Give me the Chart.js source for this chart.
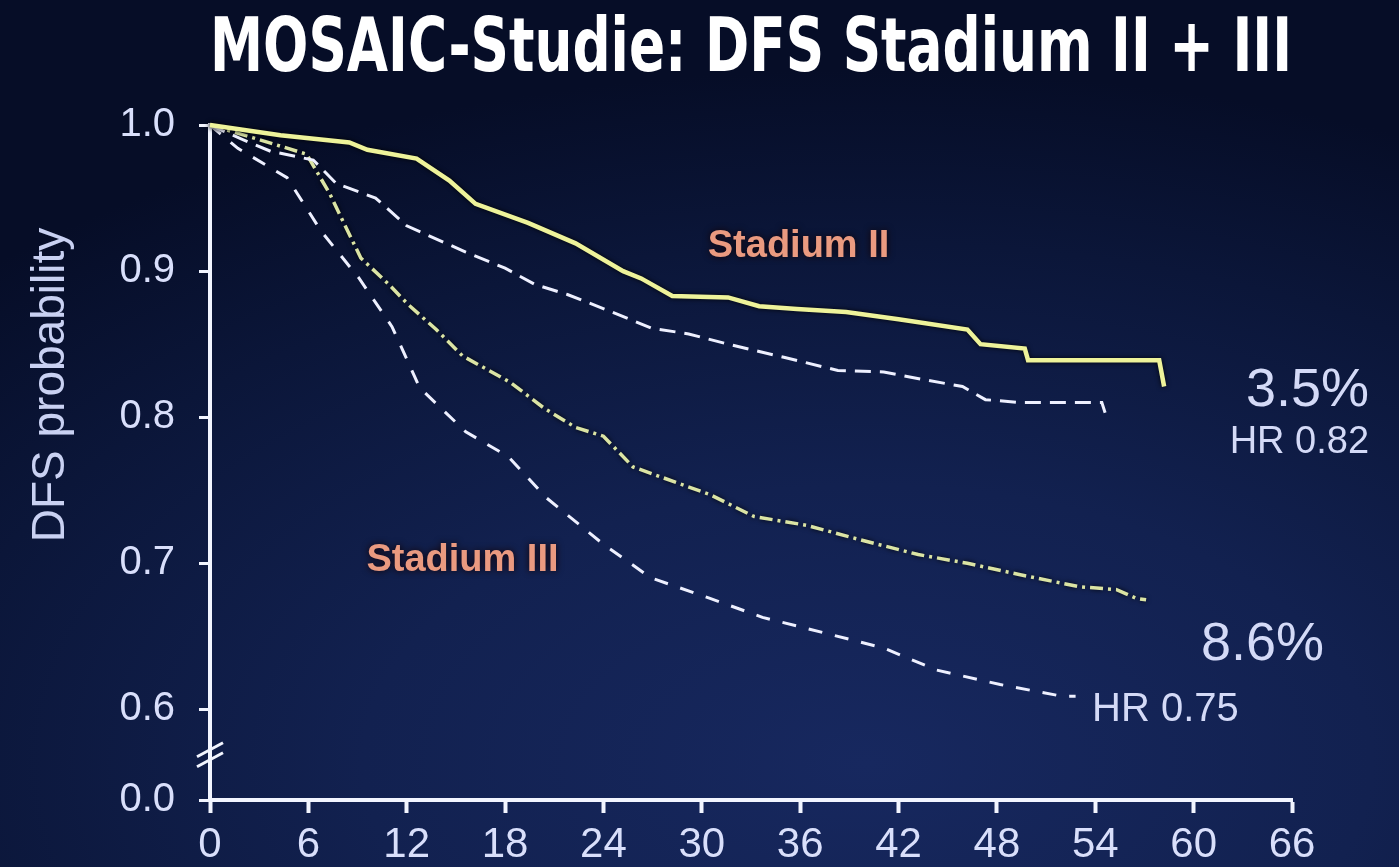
<!DOCTYPE html>
<html>
<head>
<meta charset="utf-8">
<script src="https://cdn.jsdelivr.net/npm/chart.js@4.4.1/dist/chart.umd.min.js"></script>
<style>
  html, body { margin: 0; padding: 0; width: 1399px; height: 867px; overflow: hidden; }
  body {
    background:
      radial-gradient(ellipse 90% 80% at 62% 88%, #17285f 0%, #122150 40%, #0b1639 75%, #060d27 100%);
  }
  #wrap { position: absolute; left: 0; top: 0; width: 1399px; height: 867px; }
</style>
</head>
<body>
<div id="wrap"><canvas id="c" width="1399" height="867"></canvas></div>
<script>
// ---------------- data ----------------
const chartTitle = 'MOSAIC-Studie: DFS Stadium II + III';
const yAxisTitle = 'DFS probability';
const monthTicks = [0, 6, 12, 18, 24, 30, 36, 42, 48, 54, 60, 66];
const yTickValues = [0.6, 0.7, 0.8, 0.9, 1.0];
const yBreakLabel = '0.0';

// Stadium II, FOLFOX (yellow solid)
const s2FolfoxMonths = [0, 4.3, 8.5, 9.6, 12.6, 14.6, 16.2, 19.4, 22.3, 25.2, 26.3, 28.2, 31.6, 33.5, 35.8, 38.8, 42, 46.2, 47.0, 49.7, 49.9, 57.9, 58.2];
const s2FolfoxDfs    = [1.0, 0.993, 0.988, 0.983, 0.977, 0.962, 0.946, 0.933, 0.919, 0.900, 0.895, 0.883, 0.882, 0.876, 0.874, 0.872, 0.867, 0.860, 0.850, 0.847, 0.839, 0.839, 0.821];

// Stadium II, LV5FU2 (white dashed)
const s2Lv5fu2Months = [0, 2.0, 3.7, 6.3, 7.7, 10.1, 12.0, 15.6, 18.0, 19.8, 21.8, 24.3, 26.9, 29.2, 31.6, 35.0, 38.3, 41.1, 43.4, 45.9, 47.3, 49.5, 54.4, 54.6];
const s2Lv5fu2Dfs    = [1.0, 0.990, 0.982, 0.976, 0.960, 0.950, 0.931, 0.913, 0.902, 0.891, 0.884, 0.873, 0.861, 0.857, 0.850, 0.841, 0.832, 0.831, 0.826, 0.821, 0.812, 0.810, 0.810, 0.803];

// Stadium III, FOLFOX (yellow dash-dot)
const s3FolfoxMonths = [0, 3.0, 5.9, 7.3, 7.9, 9.2, 10.9, 12.1, 13.8, 15.4, 18.3, 20.4, 22.3, 24.0, 25.8, 30.5, 33.2, 36.4, 39.7, 43.2, 46.2, 49.5, 53.0, 55.3, 56.5, 57.1];
const s3FolfoxDfs    = [1.0, 0.990, 0.980, 0.953, 0.939, 0.909, 0.891, 0.877, 0.860, 0.842, 0.824, 0.806, 0.793, 0.787, 0.766, 0.747, 0.732, 0.726, 0.716, 0.706, 0.700, 0.692, 0.684, 0.682, 0.676, 0.675];

// Stadium III, LV5FU2 (white dashed)
const s3Lv5fu2Months = [0, 1.7, 4.7, 6.8, 9.1, 11.1, 12.8, 15.6, 18.2, 20.5, 24.0, 26.9, 30.5, 33.7, 37.6, 41.1, 44.3, 48.2, 52.0, 52.8];
const s3Lv5fu2Dfs    = [1.0, 0.984, 0.964, 0.927, 0.895, 0.862, 0.820, 0.790, 0.773, 0.745, 0.713, 0.690, 0.676, 0.663, 0.652, 0.642, 0.627, 0.617, 0.609, 0.609];

// ---------------- chart ----------------
const Y_MIN = 0.538;
const FONT = "'Liberation Sans', Arial, sans-serif";
const TITLE_FONT = "'Liberation Sans Narrow', 'DejaVu Sans Condensed', 'Liberation Sans', sans-serif";
const AXIS_COLOR = '#f2f5ff';
const TICK_TEXT = '#d9dffb';

function pts(xs, ys) { return xs.map((x, i) => ({ x: x, y: ys[i] })); }

const shadowPlugin = {
  id: 'lineShadow',
  beforeDatasetDraw(chart, args) {
    const ds = chart.data.datasets[args.index];
    chart.ctx.save();
    chart.ctx.shadowColor = 'rgba(0,0,0,0.9)';
    chart.ctx.shadowBlur = ds.shadowBlurPx || 0;
  },
  afterDatasetDraw(chart) { chart.ctx.restore(); }
};

const decorPlugin = {
  id: 'decor',
  afterDraw(chart) {
    const ctx = chart.ctx;
    const xs = chart.scales.x, ys = chart.scales.y;
    // axis break marks
    const bx = xs.left;
    const by = ys.getPixelForValue((yTickValues[0] + Y_MIN) / 2);
    ctx.save();
    ctx.strokeStyle = AXIS_COLOR;
    ctx.lineWidth = 3;
    [-5, 5].forEach(d => {
      ctx.beginPath();
      ctx.moveTo(bx - 13, by + d + 7);
      ctx.lineTo(bx + 13, by + d - 7);
      ctx.stroke();
    });
    ctx.restore();

    // y axis title (rotated), placed like the reference
    ctx.save();
    ctx.translate(ys.left + 31, ys.getPixelForValue(0.822));
    ctx.rotate(-Math.PI / 2);
    ctx.font = "46px " + FONT;
    ctx.fillStyle = '#c9d1f2';
    ctx.textAlign = 'center';
    ctx.textBaseline = 'middle';
    ctx.fillText(yAxisTitle, 0, 0);
    ctx.restore();

    const labels = [
      { t: 'Stadium II',  x: 35.9, y: 0.9166, font: "bold 38px " + FONT, color: '#ea9a80', align: 'center', halo: true },
      { t: 'Stadium III', x: 15.4, y: 0.702,  font: "bold 38px " + FONT, color: '#ea9a80', align: 'center', halo: true },
      { t: '3.5%',        x: 70.7, y: 0.818,  font: "54px " + FONT, color: '#d4daf7', align: 'right' },
      { t: 'HR 0.82',     x: 70.7, y: 0.7826, font: "38px " + FONT, color: '#d4daf7', align: 'right' },
      { t: '8.6%',        x: 64.2, y: 0.644,  font: "54px " + FONT, color: '#d4daf7', align: 'center' },
      { t: 'HR 0.75',     x: 53.8, y: 0.5995, font: "40px " + FONT, color: '#d4daf7', align: 'left' }
    ];
    labels.forEach(l => {
      ctx.save();
      ctx.font = l.font;
      ctx.textAlign = l.align;
      ctx.textBaseline = 'middle';
      ctx.fillStyle = l.color;
      if (l.halo) { ctx.shadowColor = 'rgba(20,0,0,0.95)'; ctx.shadowBlur = 7; }
      ctx.fillText(l.t, xs.getPixelForValue(l.x), ys.getPixelForValue(l.y));
      ctx.restore();
    });
  }
};

new Chart(document.getElementById('c'), {
  type: 'line',
  data: {
    datasets: [
      { label: 'Stadium II FOLFOX4', data: pts(s2FolfoxMonths, s2FolfoxDfs), borderColor: '#eef39a', borderWidth: 4.5, shadowBlurPx: 5 },
      { label: 'Stadium II LV5FU2', data: pts(s2Lv5fu2Months, s2Lv5fu2Dfs), borderColor: '#eef0ff', borderWidth: 3, borderDash: [16, 9] },
      { label: 'Stadium III FOLFOX4', data: pts(s3FolfoxMonths, s3FolfoxDfs), borderColor: '#dbe4a4', borderWidth: 3.5, borderDash: [13, 5, 3, 5], shadowBlurPx: 5 },
      { label: 'Stadium III LV5FU2', data: pts(s3Lv5fu2Months, s3Lv5fu2Dfs), borderColor: '#eef0ff', borderWidth: 3, borderDash: [14, 13] }
    ]
  },
  options: {
    responsive: false,
    animation: false,
    events: [],
    elements: { point: { radius: 0 }, line: { tension: 0, fill: false } },
    datasets: { line: { clip: 10 } },
    layout: { padding: { left: 20, right: 107, top: 0, bottom: 0 } },
    plugins: {
      legend: { display: false },
      tooltip: { enabled: false },
      title: {
        display: true, text: chartTitle, color: '#ffffff', fullSize: false,
        font: { family: TITLE_FONT, size: 74, weight: 'bold', lineHeight: 1 },
        padding: { top: 15, bottom: 36 }
      }
    },
    scales: {
      x: {
        type: 'linear', min: 0, max: 66,
        afterBuildTicks: s => { s.ticks = monthTicks.map(v => ({ value: v })); },
        border: { display: true, color: AXIS_COLOR, width: 4 },
        grid: { display: true, drawOnChartArea: false, drawTicks: true, tickLength: 13, tickWidth: 4, tickColor: AXIS_COLOR },
        ticks: { color: TICK_TEXT, font: { family: FONT, size: 42 }, padding: 7, maxRotation: 0, autoSkip: false },
        afterFit: s => { s.height = 67; }
      },
      y: {
        type: 'linear', min: Y_MIN, max: 1.0,
        afterBuildTicks: s => { s.ticks = [Y_MIN].concat(yTickValues).map(v => ({ value: v })); },
        border: { display: true, color: AXIS_COLOR, width: 4 },
        grid: { display: true, drawOnChartArea: false, drawTicks: true, tickLength: 11, tickWidth: 3, tickColor: AXIS_COLOR },
        ticks: {
          color: TICK_TEXT, font: { family: FONT, size: 40 }, padding: 24, autoSkip: false,
          callback: v => (v === Y_MIN ? yBreakLabel : Number(v).toFixed(1))
        },
        title: { display: false, text: yAxisTitle },
        afterFit: s => { s.width = 190; }
      }
    }
  },
  plugins: [shadowPlugin, decorPlugin]
});
</script>
</body>
</html>
